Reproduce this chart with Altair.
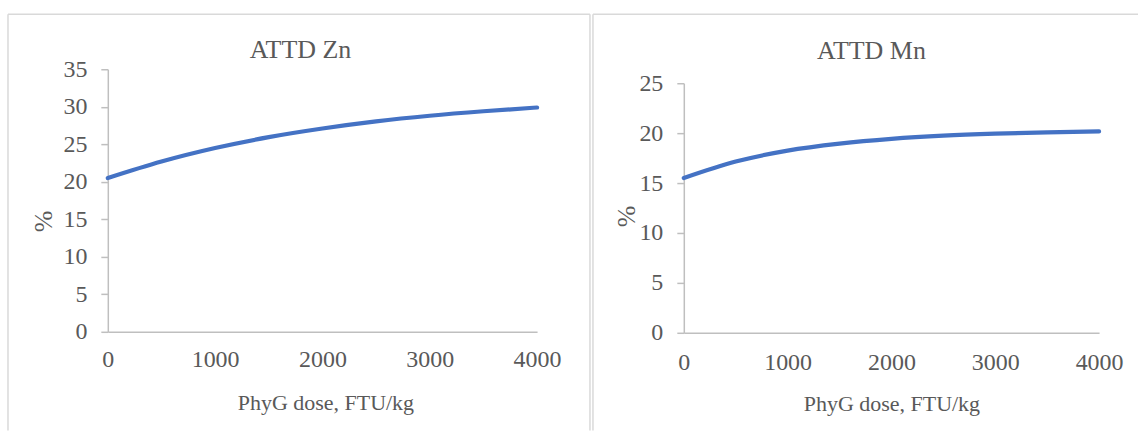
import altair as alt
import pandas as pd

# Apparent total tract digestibility vs phytase dose
doses = [0, 500, 1000, 1500, 2000, 2500, 3000, 3500, 4000]
zn_attd = [20.5, 22.7, 24.5, 25.95, 27.1, 28.05, 28.8, 29.4, 29.9]
mn_attd = [15.5, 17.15, 18.25, 18.95, 19.43, 19.75, 19.95, 20.08, 20.17]

dose_ticks = [0, 1000, 2000, 3000, 4000]
zn_ticks = [0, 5, 10, 15, 20, 25, 30, 35]
mn_ticks = [0, 5, 10, 15, 20, 25]

x_title = "PhyG dose, FTU/kg"
y_title = "%"

FONT = "Liberation Serif"
TEXT = "#595959"
AXIS = "#bfbfbf"
BORDER = "#d9d9d9"
BLUE = "#4472c4"

one = pd.DataFrame({"k": [0]})


def seg(x, y, x2=None, y2=None):
    enc = dict(x=alt.value(x), y=alt.value(y))
    if x2 is not None:
        enc["x2"] = alt.value(x2)
    if y2 is not None:
        enc["y2"] = alt.value(y2)
    return alt.Chart(one).mark_rule(color=BORDER, strokeWidth=1.5).encode(**enc)


def panel(title, values, ticks, ymax, w, h, y_range, title_x, title_y,
          ytx, yty, xtx, xty, xpad, frame, right_edge):
    df = pd.DataFrame({"dose": doses, "attd": values})
    line = alt.Chart(df).mark_line(
        color=BLUE, strokeWidth=4.2, interpolate="monotone", strokeCap="round"
    ).encode(
        x=alt.X(
            "dose:Q",
            scale=alt.Scale(domain=[0, 4000], nice=False),
            axis=alt.Axis(
                values=dose_ticks, format="d", title=x_title, grid=False,
                ticks=False, tickSize=0, labelPadding=xpad, labelFlush=False,
                labelFont=FONT, labelFontSize=24, labelColor=TEXT,
                domainColor=AXIS, domainWidth=1.5,
                titleFont=FONT, titleFontSize=22, titleColor=TEXT,
                titleFontWeight="normal", titleX=xtx, titleY=xty,
                titleBaseline="alphabetic", titleAlign="center",
            ),
        ),
        y=alt.Y(
            "attd:Q",
            scale=alt.Scale(domain=[0, ymax], nice=False, range=y_range),
            axis=alt.Axis(
                values=ticks, format="d", title=y_title, grid=False,
                tickSize=7, tickColor=AXIS, tickWidth=1.5, labelPadding=14,
                labelFlush=False,
                labelFont=FONT, labelFontSize=24, labelColor=TEXT,
                domainColor=AXIS, domainWidth=1.5,
                titleFont=FONT, titleFontSize=26, titleColor=TEXT,
                titleFontWeight="normal", titleAngle=270,
                titleX=ytx, titleY=yty, titleBaseline="middle",
                titleAlign="center",
            ),
        ),
    )
    heading = alt.Chart(one).mark_text(
        text=title, font=FONT, fontSize=26, color=TEXT,
        align="center", baseline="alphabetic",
    ).encode(x=alt.value(title_x), y=alt.value(title_y))
    left, top, right, bottom = frame
    borders = [seg(left, top, x2=right), seg(left, top, y2=bottom)]
    if right_edge:
        borders.append(seg(right, top, y2=bottom))
    return alt.layer(line, heading, *borders).properties(width=w, height=h)


zn = panel("ATTD Zn", zn_attd, zn_ticks, 35, 430, 263, [263, 0], 193, -11,
           -64, 152, 218, 78, 16, (-100, -55, 483, 362), True)
mn = panel("ATTD Mn", mn_attd, mn_ticks, 25, 416, 264, [264, 14], 188, -10.5,
           -57, 147, 208, 77.5, 18, (-91, -55, 455, 362), False)

chart = alt.hconcat(zn, mn, spacing=1).properties(
    padding={"left": 7, "top": 13, "right": 0, "bottom": 0}
).configure_view(strokeWidth=0)

chart.save("out.html", embed_options={"renderer": "svg", "actions": False})
